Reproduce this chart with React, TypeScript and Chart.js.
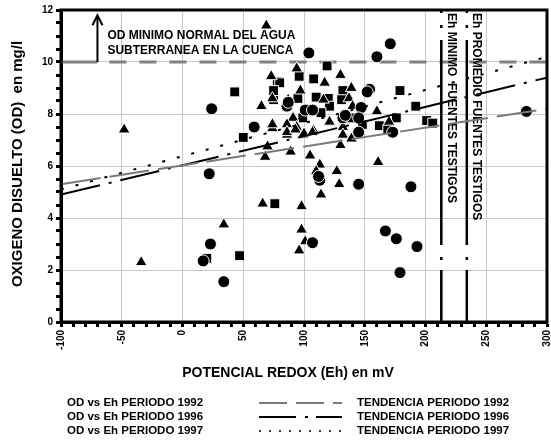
import React, { useEffect, useRef } from 'react';
import { Chart, registerables } from 'chart.js';

Chart.register(...registerables);

// ---- Data ----
const circles1992X = [24, 22, 59, 17, 23, 34, 113, 145, 188, 107, 167, 176, 193, 179, 171, 160, 104, 154, 86, 101, 107, 147, 132, 134, 145, 283, 173, 145, 112, 87, 152];
const circles1992Y = [8.2, 5.7, 7.5, 2.35, 3.0, 1.55, 5.45, 5.3, 5.2, 3.05, 3.5, 3.2, 2.9, 1.9, 10.7, 10.2, 10.35, 8.95, 8.3, 8.15, 8.15, 8.25, 7.85, 7.95, 7.85, 8.1, 7.3, 7.3, 5.6, 8.45, 8.85];

const triangles1996X = [-48, -34, 34, 66, 69, 65, 74, 73, 74, 70, 68, 129, 114, 98, 98, 101, 96, 130, 94, 117, 139, 97, 116, 137, 87, 160, 140, 91, 121, 170, 86, 94, 108, 132, 132, 99, 86, 139, 89, 105, 130, 161, 113, 127, 110, 86, 93, 100, 107, 74];
const triangles1996Y = [7.4, 2.3, 3.75, 4.55, 11.4, 8.3, 8.6, 9.45, 7.45, 6.75, 6.35, 5.3, 4.9, 4.45, 3.55, 3.1, 2.75, 9.5, 9.75, 9.2, 9.0, 8.9, 8.55, 8.6, 8.55, 8.1, 8.3, 7.85, 7.7, 7.7, 7.6, 7.5, 7.35, 7.5, 7.2, 7.2, 7.2, 7.05, 6.55, 6.4, 6.8, 6.15, 6.05, 5.8, 5.8, 7.3, 7.4, 7.25, 7.3, 7.6];

const squares1997X = [20, 47, 76, 43, 50, 75, 78, 119, 96, 108, 80, 132, 75, 179, 95, 110, 120, 131, 121, 192, 114, 138, 99, 176, 201, 206, 148, 162, 169];
const squares1997Y = [2.45, 2.55, 4.55, 8.85, 7.1, 8.55, 9.25, 9.85, 9.45, 9.35, 9.2, 8.9, 8.9, 8.9, 8.6, 8.65, 8.6, 8.55, 8.3, 8.3, 8.05, 7.85, 7.85, 7.85, 7.75, 7.65, 7.6, 7.55, 7.4];

const trendX = [-100, 300];
const trend1992Y = [5.3, 8.2];
const trend1996Y = [4.9, 9.4];
const trend1997Y = [5.1, 10.2];

const OD_MIN = 10;
const ARROW_X = -70;
const EH_MIN = 213;
const EH_PROM = 234;

const X_MIN = -100, X_MAX = 300, X_STEP = 10, X_LABEL_STEP = 50;
const Y_MIN = 0, Y_MAX = 12, Y_STEP = 0.5, Y_LABEL_STEP = 2;

const seriesLabels = ['OD vs Eh PERIODO 1992', 'OD vs Eh PERIODO 1996', 'OD vs Eh PERIODO 1997'];
const trendLabels = ['TENDENCIA PERIODO 1992', 'TENDENCIA PERIODO 1996', 'TENDENCIA PERIODO 1997'];
const annotLines = ['OD MINIMO NORMAL DEL AGUA', 'SUBTERRANEA EN LA CUENCA'];
const vLabels = ['Eh MINIMO  FUENTES TESTIGOS', 'Eh PROMEDIO FUENTES TESTIGOS'];
const xTitle = 'POTENCIAL REDOX (Eh) en mV';
const yTitle = 'OXIGENO DISUELTO (OD)  en mg/l';

const FONT = 'Arial, "Liberation Sans", sans-serif';

const pts = (xs: number[], ys: number[]) => xs.map((v, i) => ({ x: v, y: ys[i] }));

const trendStyles = [
  { color: '#7a7a7a', width: 2, dash: [40, 9] },
  { color: '#000000', width: 2, dash: [40, 9, 3, 9] },
  { color: '#000000', width: 2, dash: [3, 12] },
];
const legendDash = [[28, 9], [37, 9, 3, 8], [2, 8]];

const annotPlugin = {
  id: 'annot',
  beforeDatasetsDraw(chart: any) {
    const { ctx, chartArea: a, scales } = chart;
    const x = scales.x, y = scales.y;
    ctx.save();
    // horizontal OD min line
    const y10 = y.getPixelForValue(OD_MIN);
    const xa = x.getPixelForValue(ARROW_X);
    ctx.strokeStyle = '#808080';
    ctx.lineWidth = 3;
    ctx.beginPath(); ctx.moveTo(a.left, y10); ctx.lineTo(xa, y10); ctx.stroke();
    ctx.setLineDash([17, 13]);
    ctx.beginPath(); ctx.moveTo(xa + 12, y10); ctx.lineTo(a.right, y10); ctx.stroke();
    ctx.setLineDash([]);
    // arrow
    const yt = y.getPixelForValue(11.8);
    ctx.strokeStyle = '#000';
    ctx.lineWidth = 2;
    ctx.beginPath(); ctx.moveTo(xa, y10); ctx.lineTo(xa, yt); ctx.stroke();
    ctx.beginPath(); ctx.moveTo(xa - 5, yt + 10); ctx.lineTo(xa, yt); ctx.lineTo(xa + 5, yt + 10); ctx.stroke();
    // annotation text
    ctx.fillStyle = '#000';
    ctx.font = 'bold 12px ' + FONT;
    ctx.textAlign = 'left';
    ctx.textBaseline = 'middle';
    ctx.fillText(annotLines[0], xa + 10, y.getPixelForValue(11.0));
    ctx.fillText(annotLines[1], xa + 10, y.getPixelForValue(10.42));
    // vertical lines
    [EH_MIN, EH_PROM].forEach((v, i) => {
      const px = x.getPixelForValue(v);
      ctx.strokeStyle = '#000';
      ctx.lineWidth = 2.5;
      ctx.setLineDash([52, 10, 3, 12, 205, 12, 3, 12, 100]);
      ctx.beginPath(); ctx.moveTo(px, a.bottom); ctx.lineTo(px, a.top); ctx.stroke();
      ctx.setLineDash([]);
      ctx.save();
      ctx.translate(px + 10, a.top + 3);
      ctx.rotate(Math.PI / 2);
      ctx.font = 'bold 12px ' + FONT;
      ctx.textAlign = 'left';
      ctx.textBaseline = 'middle';
      ctx.fillText(vLabels[i], 0, 0);
      ctx.restore();
    });
    ctx.restore();
  },
  afterDatasetsDraw(chart: any) {
    const { ctx, chartArea: a } = chart;
    ctx.save();
    ctx.strokeStyle = '#000';
    ctx.lineWidth = 3;
    ctx.strokeRect(a.left, a.top, a.right - a.left, a.bottom - a.top);
    ctx.restore();
  },
  afterDraw(chart: any) {
    const { ctx } = chart;
    ctx.save();
    ctx.fillStyle = '#000';
    // y title
    ctx.save();
    ctx.translate(18, 164);
    ctx.rotate(-Math.PI / 2);
    ctx.font = 'bold 15px ' + FONT;
    ctx.textAlign = 'center';
    ctx.textBaseline = 'middle';
    ctx.fillText(yTitle, 0, 0);
    ctx.restore();
    // x title
    ctx.font = 'bold 14px ' + FONT;
    ctx.textAlign = 'center';
    ctx.textBaseline = 'middle';
    ctx.fillText(xTitle, 288, 373);
    // legend
    const ys = [403, 417, 431];
    ctx.font = 'bold 11.5px ' + FONT;
    ctx.textAlign = 'left';
    ys.forEach((ly, i) => {
      ctx.fillText(seriesLabels[i], 67, ly);
      ctx.fillText(trendLabels[i], 357, ly);
      ctx.save();
      ctx.strokeStyle = trendStyles[i].color;
      ctx.lineWidth = i === 2 ? 1.5 : 2;
      ctx.setLineDash(legendDash[i]);
      ctx.beginPath(); ctx.moveTo(259, ly); ctx.lineTo(342, ly); ctx.stroke();
      ctx.restore();
    });
    ctx.restore();
  },
};

export default function App() {
  const ref = useRef<HTMLCanvasElement | null>(null);
  useEffect(() => {
    if (!ref.current) return;
    const tickFont = { family: FONT, size: 10, weight: 'bold' as const };
    const chart = new Chart(ref.current, {
      type: 'scatter',
      data: {
        datasets: [
          ...[trend1992Y, trend1996Y, trend1997Y].map((ty, i) => ({
            type: 'line' as const,
            label: trendLabels[i],
            data: pts(trendX, ty),
            borderColor: trendStyles[i].color,
            borderWidth: trendStyles[i].width,
            borderDash: trendStyles[i].dash,
            pointRadius: 0,
            fill: false,
          })),
          {
            label: seriesLabels[0],
            data: pts(circles1992X, circles1992Y),
            pointStyle: 'circle',
            pointRadius: 6,
            backgroundColor: '#000',
            borderColor: '#fff',
            borderWidth: 1,
          },
          {
            label: seriesLabels[1],
            data: pts(triangles1996X, triangles1996Y),
            pointStyle: 'triangle',
            pointRadius: 6.8,
            backgroundColor: '#000',
            borderColor: '#fff',
            borderWidth: 1,
          },
          {
            label: seriesLabels[2],
            data: pts(squares1997X, squares1997Y),
            pointStyle: 'rect',
            pointRadius: 7,
            backgroundColor: '#000',
            borderColor: '#fff',
            borderWidth: 1,
          },
        ],
      },
      options: {
        responsive: false,
        animation: false,
        devicePixelRatio: 1,
        layout: { autoPadding: false, padding: { top: 10, right: 4, left: 0, bottom: 0 } },
        plugins: { legend: { display: false }, tooltip: { enabled: false } },
        scales: {
          x: {
            type: 'linear',
            min: X_MIN,
            max: X_MAX,
            afterFit: (s: any) => { s.height = 119; s.paddingRight = 0; s.paddingLeft = 0; },
            ticks: {
              stepSize: X_STEP,
              autoSkip: false,
              minRotation: 90,
              maxRotation: 90,
              padding: 3,
              color: '#000',
              font: tickFont,
              callback: (v: any) => (Math.round(v) % X_LABEL_STEP === 0 ? String(v) : ''),
            },
            grid: {
              color: (c: any) => (c.tick && Math.round(c.tick.value) % X_LABEL_STEP === 0 ? '#c8c8c8' : 'rgba(0,0,0,0)'),
              lineWidth: 1,
              tickColor: '#000',
              tickLength: 5,
              tickWidth: 3,
              drawTicks: true,
            },
            border: { display: true, color: '#000', width: 3 },
          },
          y: {
            type: 'linear',
            min: Y_MIN,
            max: Y_MAX,
            afterFit: (s: any) => { s.width = 61; s.paddingTop = 0; s.paddingBottom = 0; },
            ticks: {
              stepSize: Y_STEP,
              autoSkip: false,
              padding: 3,
              color: '#000',
              font: tickFont,
              callback: (v: any) => (Math.abs(v % Y_LABEL_STEP) < 1e-9 ? String(v) : ''),
            },
            grid: {
              color: (c: any) => (c.tick && Math.abs(c.tick.value % Y_LABEL_STEP) < 1e-9 ? '#c8c8c8' : 'rgba(0,0,0,0)'),
              lineWidth: 1,
              tickColor: '#000',
              tickLength: 5,
              tickWidth: 3,
              drawTicks: true,
            },
            border: { display: true, color: '#000', width: 3 },
          },
        },
      },
      plugins: [annotPlugin],
    } as any);
    return () => chart.destroy();
  }, []);
  return (
    <div style={{ position: 'absolute', left: 0, top: 0, width: 551, height: 441, background: '#fff' }}>
      <canvas ref={ref} width={551} height={441} style={{ width: 551, height: 441, display: 'block' }} />
    </div>
  );
}
